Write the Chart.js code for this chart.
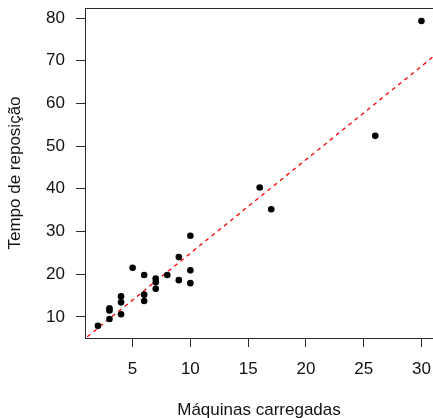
<!DOCTYPE html>
<html>
<head>
<meta charset="utf-8">
<script src="https://cdn.jsdelivr.net/npm/chart.js@4/dist/chart.umd.min.js"></script>
<style>
  html, body { margin: 0; padding: 0; background: #fff; }
  #wrap { width: 433px; height: 418px; }
</style>
</head>
<body>
<div id="wrap"><canvas id="dispersao" width="433" height="418"></canvas></div>
<script>
// máquinas carregadas (x) e tempo de reposição (y)
const maquinas = [2, 3, 3, 3, 4, 4, 4, 5, 6, 6, 6, 7, 7, 7, 8, 9, 9, 10, 10, 10, 16, 17, 26, 30];
const tempo = [7.9, 9.5, 12.0, 11.5, 10.6, 13.4, 14.8, 21.5, 13.7, 15.2, 19.8, 19.0, 18.1, 16.6,
               19.8, 24.0, 18.6, 29.0, 20.9, 17.9, 40.3, 35.2, 52.4, 79.3];

// reta ajustada (dois pontos extremos)
const retaX = [0, 32];
const retaY = [3.0, 73.1];

const xTicks = [5, 10, 15, 20, 25, 30];
const yTicks = [10, 20, 30, 40, 50, 60, 70, 80];

const fonte = { family: "'Liberation Sans', Arial, sans-serif", size: 17 };
const corEixo = "#2a2a2a";
const corTexto = "#111";

// sem folga extra para rótulos nas bordas
function semFolga(axis) {
  axis.paddingLeft = 0;
  axis.paddingRight = 0;
  axis.paddingTop = 0;
  axis.paddingBottom = 0;
}

// linha superior da caixa do gráfico
const caixa = {
  id: "caixa",
  afterDraw(chart) {
    const a = chart.chartArea;
    const ctx = chart.ctx;
    ctx.save();
    ctx.strokeStyle = corEixo;
    ctx.lineWidth = 1;
    ctx.beginPath();
    ctx.moveTo(a.left, a.top + 0.5);
    ctx.lineTo(a.right, a.top + 0.5);
    ctx.stroke();
    ctx.restore();
  },
};

document.addEventListener("DOMContentLoaded", function () {
  const ctx = document.getElementById("dispersao").getContext("2d");

  new Chart(ctx, {
    type: "scatter",
    data: {
      datasets: [
        {
          data: maquinas.map((x, i) => ({ x: x, y: tempo[i] })),
          backgroundColor: "#000",
          borderWidth: 0,
          pointRadius: 3.3,
        },
        {
          data: retaX.map((x, i) => ({ x: x, y: retaY[i] })),
          showLine: true,
          borderColor: "#ff0000",
          borderWidth: 1.3,
          borderDash: [4, 4],
          pointRadius: 0,
          fill: false,
        },
      ],
    },
    options: {
      responsive: false,
      animation: false,
      devicePixelRatio: 1,
      layout: { autoPadding: false, padding: { top: 8, left: 0, right: 0, bottom: 0 } },
      plugins: { legend: { display: false }, tooltip: { enabled: false } },
      scales: {
        x: {
          type: "linear",
          min: 0.88,
          max: 31.0,
          afterBuildTicks: (axis) => { axis.ticks = xTicks.map((v) => ({ value: v })); },
          afterFit: (axis) => { axis.height = 80; semFolga(axis); },
          grid: { drawOnChartArea: false, drawTicks: true, tickLength: 9, color: corEixo },
          border: { display: true, color: corEixo, width: 1 },
          ticks: { font: fonte, color: corTexto, padding: 12, maxRotation: 0 },
          title: {
            display: true,
            text: "Máquinas carregadas",
            font: fonte,
            color: corTexto,
            padding: { top: 0, bottom: -3 },
          },
        },
        y: {
          type: "linear",
          min: 5.05,
          max: 82.35,
          afterBuildTicks: (axis) => { axis.ticks = yTicks.map((v) => ({ value: v })); },
          afterFit: (axis) => { axis.width = 85; semFolga(axis); },
          grid: { drawOnChartArea: false, drawTicks: true, tickLength: 9, color: corEixo },
          border: { display: true, color: corEixo, width: 1 },
          ticks: { font: fonte, color: corTexto, padding: 11 },
          title: {
            display: true,
            text: "Tempo de reposição",
            font: fonte,
            color: corTexto,
            padding: { top: 5, bottom: 0 },
          },
        },
      },
    },
    plugins: [caixa],
  });
});
</script>
</body>
</html>
